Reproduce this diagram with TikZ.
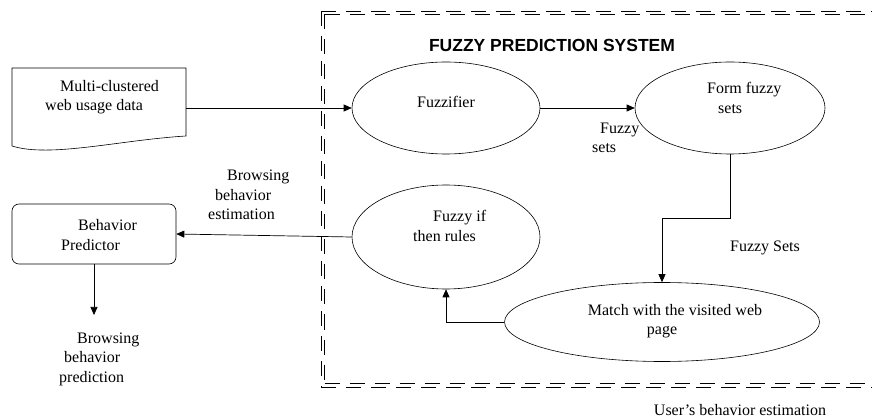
\documentclass[tikz,border=0pt]{standalone}
\usepackage{fontspec}
\setmainfont{Liberation Serif}
\setsansfont{Liberation Sans}
\usetikzlibrary{positioning, arrows.meta, shapes.geometric}

\begin{document}
\begin{tikzpicture}[
  x=1pt, y=-1pt,
  % Styles
  process/.style={
    ellipse, draw=black, line width=0.6pt,
    minimum width=#1, inner sep=0pt
  },
  plainlabel/.style={
    font=\fontsize{16}{19.5}\selectfont, align=left, inner sep=0pt
  },
  boundary/.style={
    line width=0.6pt, dash pattern=on 15pt off 10pt
  },
  arrowflow/.style={
    -{Triangle[length=8pt, width=7pt]}, line width=0.7pt, black
  },
]
\useasboundingbox (0,0) rectangle (872,419);

% === SYSTEM BOUNDARY (double dashed) ===
\draw[boundary] (321,11) -- (880,11);
\draw[boundary] (324.5,14.5) -- (880,14.5);
\draw[boundary] (321,11) -- (321,387);
\draw[boundary] (324.5,14.5) -- (324.5,383.5);
\draw[boundary] (321,387) -- (880,387);
\draw[boundary] (324.5,383.5) -- (880,383.5);
\node[font=\sffamily\bfseries\fontsize{17.5}{20}\selectfont] (systitle) at (552,45) {FUZZY PREDICTION SYSTEM};

% === INPUT DOCUMENT ===
\draw[line width=0.6pt]
  (12,146) -- (12,68) -- (186,68) -- (186,136)
  .. controls (120,140) and (50,158) .. (12,146);
\coordinate (usageout) at (186,108);
\node[plainlabel, anchor=west] (usage) at (45,97) {\hspace*{15pt}Multi-clustered\\web usage data};

% === PROCESS ELLIPSES ===
\node[process=188pt, minimum height=92pt] (fuzzifier) at (446,108) {};
\node[process=190pt, minimum height=92pt] (formsets) at (730,108) {};
\node[process=188pt, minimum height=104pt] (rules) at (446,237) {};
\node[process=315pt, minimum height=79pt] (match) at (662,322) {};

\node[plainlabel] (fuzzifiertext) at (446,102) {Fuzzifier};
\node[plainlabel, anchor=west] (formsetstext) at (707,98) {Form fuzzy\\\hspace*{11pt}sets};
\node[plainlabel, anchor=west] (rulestext) at (413,226) {\hspace*{20pt}Fuzzy if\\then rules};
\node[plainlabel, align=center] (matchtext) at (675,321) {Match with the visited web\\\hspace*{-26pt}page};

% === PREDICTOR ===
\node[rectangle, rounded corners=7pt, draw=black, line width=0.6pt,
  minimum width=164pt, minimum height=60pt] (predictor) at (94,234) {};
\node[plainlabel, anchor=west] (predictortext) at (61,235) {\hspace*{17pt}Behavior\\Predictor};
\node[plainlabel, anchor=west] (prediction) at (59,359) {\hspace*{18pt}Browsing\\\hspace*{5pt}behavior\\prediction};

% === LABELS ===
\node[plainlabel, anchor=west] (estimation) at (208,195) {\hspace*{19pt}Browsing\\\hspace*{7pt}behavior\\estimation};
\node[plainlabel, anchor=west] (fuzzysets) at (592,138) {\hspace*{8pt}Fuzzy\\sets};
\node[plainlabel] (fuzzysets2) at (765,248) {Fuzzy Sets};
\node[plainlabel] (userest) at (740,410) {User's behavior estimation};

% === FLOW ARROWS ===
\draw[arrowflow] (usageout) -- (fuzzifier.west);
\draw[arrowflow] (fuzzifier.east) -- (formsets.west);
\draw[arrowflow] (formsets.south) -- (730,218) -| (match.north);
\draw[arrowflow] (match.west) -| (rules.south);
\draw[arrowflow] (rules.west) -- (predictor.east);
\draw[arrowflow] (predictor.south) -- (94,315);

\end{tikzpicture}
\end{document}
